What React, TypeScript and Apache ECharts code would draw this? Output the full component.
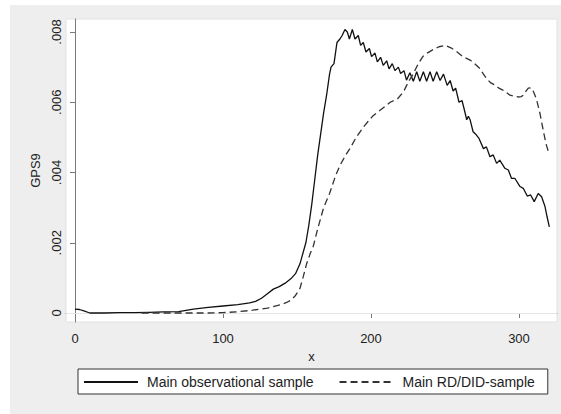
import React, { useEffect, useRef } from "react";
import * as echarts from "echarts";

const obsX = [0, 3, 6, 10, 20, 30, 40, 50, 60, 70, 80, 90, 100, 110, 118, 122, 126, 130, 134, 138, 142, 146, 149, 152, 154, 156, 158, 160, 162, 164, 166, 168, 170, 172, 173, 175, 177, 179, 180.5, 182.4, 184, 185.4, 187.4, 189.2, 191.4, 193, 194.8, 196.6, 198.9, 200.4, 202.7, 204.3, 206.5, 208.3, 210.6, 212.2, 214.4, 216.2, 218.5, 220, 222.3, 224, 226.3, 228.6, 230.9, 233, 235.4, 237.6, 239.9, 242, 244.4, 246.7, 249, 251.5, 253.5, 255.5, 257.2, 259.5, 261.5, 263, 264.7, 265.8, 267, 269, 271, 273, 276, 278, 280.4, 282.6, 284.9, 287, 290.5, 292.8, 295, 297.3, 300.7, 302.9, 305.6, 307.9, 310.3, 313, 315.3, 317.6, 319, 320.5];
const obsY = [0.00011, 0.0001, 0.00006, 0.0, 0.0, 0.00001, 0.00001, 0.00002, 0.00003, 0.00004, 0.00011, 0.00016, 0.0002, 0.00024, 0.00029, 0.00033, 0.00042, 0.00055, 0.00068, 0.00075, 0.00085, 0.00098, 0.00112, 0.0014, 0.0017, 0.002, 0.0025, 0.0031, 0.0038, 0.0045, 0.0051, 0.0057, 0.0062, 0.0068, 0.007, 0.0071, 0.0077, 0.0078, 0.0079, 0.00807, 0.008, 0.0078, 0.00807, 0.0078, 0.0079, 0.00762, 0.0077, 0.00743, 0.00753, 0.0073, 0.0074, 0.00715, 0.00728, 0.00705, 0.00718, 0.00695, 0.0071, 0.0069, 0.007, 0.00682, 0.0069, 0.00663, 0.00684, 0.0066, 0.00687, 0.0066, 0.00687, 0.0066, 0.00687, 0.0066, 0.00687, 0.00662, 0.0068, 0.00648, 0.00662, 0.00632, 0.0064, 0.006, 0.00605, 0.0058, 0.0055, 0.0056, 0.0055, 0.00516, 0.00508, 0.00497, 0.00468, 0.00473, 0.00445, 0.0045, 0.00426, 0.00435, 0.00412, 0.00407, 0.00383, 0.00383, 0.0036, 0.00355, 0.00333, 0.00336, 0.00317, 0.0034, 0.00331, 0.00303, 0.00274, 0.00245];

const rdX = [45, 60, 70, 80, 90, 100, 111, 120, 130, 138.5, 143, 146, 149, 152, 154, 156.5, 159, 161, 164, 168, 172, 176, 179, 183, 186, 190, 195, 201, 207, 213, 218, 222, 225.5, 228.5, 232, 235, 238, 242, 246, 250, 254, 258, 262, 267, 270, 273.6, 276, 278, 281, 283.8, 286.5, 289.4, 291.5, 293.9, 297, 299.5, 301.5, 303, 304.5, 306.3, 308, 309.2, 310.8, 312, 314.2, 316.4, 318.2, 319.8];
const rdY = [0.0, 0.0, 0.0, 0.0, 0.0, 0.00001, 0.00004, 0.00008, 0.00014, 0.00023, 0.0003, 0.00037, 0.0005, 0.0007, 0.001, 0.0014, 0.0017, 0.0019, 0.0024, 0.003, 0.0034, 0.0039, 0.0042, 0.0045, 0.0047, 0.005, 0.0053, 0.0056, 0.0058, 0.006, 0.0061, 0.0063, 0.0066, 0.0068, 0.0071, 0.0073, 0.0074, 0.0075, 0.00758, 0.00762, 0.00755, 0.00744, 0.0073, 0.0072, 0.0071, 0.00696, 0.0068, 0.00668, 0.00655, 0.00649, 0.0064, 0.00634, 0.00628, 0.0062, 0.00617, 0.00615, 0.00616, 0.0062, 0.0063, 0.0064, 0.00641, 0.00636, 0.0062, 0.00606, 0.00568, 0.0052, 0.00483, 0.0046];

const xTicks = [0, 100, 200, 300];
const yTicks = [0, 0.002, 0.004, 0.006, 0.008];
const seriesNames = ["Main observational sample", "Main RD/DID-sample"];

const FONT = "Liberation Sans, Arial, sans-serif";

export default function App() {
  const ref = useRef<HTMLDivElement>(null);
  useEffect(() => {
    if (!ref.current) return;
    const chart = echarts.init(ref.current, undefined, { renderer: "svg" });
    const fmtY = (v: number) => (v === 0 ? "0" : v.toFixed(3).replace(/^0/, ""));
    chart.setOption({
      animation: false,
      backgroundColor: "#ffffff",
      textStyle: { fontFamily: FONT },
      graphic: [
        {
          type: "rect",
          z: -10,
          silent: true,
          shape: { x: 10, y: 5, width: 551, height: 409 },
          style: { fill: "#eeeeee" },
        },
      ],
      grid: {
        left: 66,
        right: 4,
        top: 19,
        bottom: 92,
        show: true,
        backgroundColor: "#ffffff",
        borderColor: "#e2e2e2",
        borderWidth: 1,
      },
      xAxis: {
        type: "value",
        min: -6.1,
        max: 325.7,
        name: "x",
        nameLocation: "middle",
        nameGap: 20,
        nameTextStyle: { fontSize: 13, color: "#222", fontFamily: FONT },
        axisLine: { show: true, lineStyle: { color: "#7a7a7a", width: 1 } },
        axisTick: { show: true, length: 5, customValues: xTicks, lineStyle: { color: "#7a7a7a" } },
        axisLabel: {
          customValues: xTicks,
          fontSize: 13,
          color: "#222",
          margin: 10,
          fontFamily: FONT,
          formatter: (v: number) => String(v),
        },
        splitLine: { show: false },
      },
      yAxis: {
        type: "value",
        min: -0.000256,
        max: 0.00837,
        name: "GPS9",
        nameLocation: "middle",
        nameGap: 18,
        nameTextStyle: { fontSize: 13, color: "#222", fontFamily: FONT },
        axisLine: { show: true, lineStyle: { color: "#7a7a7a", width: 1 } },
        axisTick: { show: true, length: 5, customValues: yTicks, lineStyle: { color: "#7a7a7a" } },
        axisLabel: {
          customValues: yTicks,
          rotate: 90,
          fontSize: 13,
          color: "#222",
          margin: 3,
          fontFamily: FONT,
          formatter: fmtY,
        },
        splitLine: { show: false },
      },
      legend: {
        left: 78,
        top: 369,
        orient: "horizontal",
        data: seriesNames,
        itemWidth: 54,
        itemHeight: 14,
        itemGap: 25,
        padding: [6, 13, 5, 5],
        borderColor: "#333",
        borderWidth: 1,
        backgroundColor: "#ffffff",
        itemStyle: { opacity: 0 },
        textStyle: { fontSize: 14, color: "#222", fontFamily: FONT, padding: [0, 0, 0, 4] },
      },
      series: [
        {
          name: seriesNames[0],
          type: "line",
          data: obsX.map((x, i) => [x, obsY[i]]),
          symbol: "none",
          smooth: false,
          z: 3,
          lineStyle: { color: "#111", width: 1.3, type: "solid" },
          itemStyle: { color: "#111" },
          markLine: {
            silent: true,
            symbol: "none",
            z: 1,
            label: { show: false },
            lineStyle: { color: "#e6e6e6", width: 1, type: "solid" },
            data: yTicks.map((v) => ({ yAxis: v })),
          },
        },
        {
          name: seriesNames[1],
          type: "line",
          data: rdX.map((x, i) => [x, rdY[i]]),
          symbol: "none",
          smooth: false,
          z: 3,
          lineStyle: { color: "#333", width: 1.3, type: [7, 4] },
          itemStyle: { color: "#333" },
        },
      ],
    });
    return () => chart.dispose();
  }, []);
  return (
    <div
      ref={ref}
      style={{ position: "absolute", left: 0, top: 0, width: 561, height: 414 }}
    />
  );
}
